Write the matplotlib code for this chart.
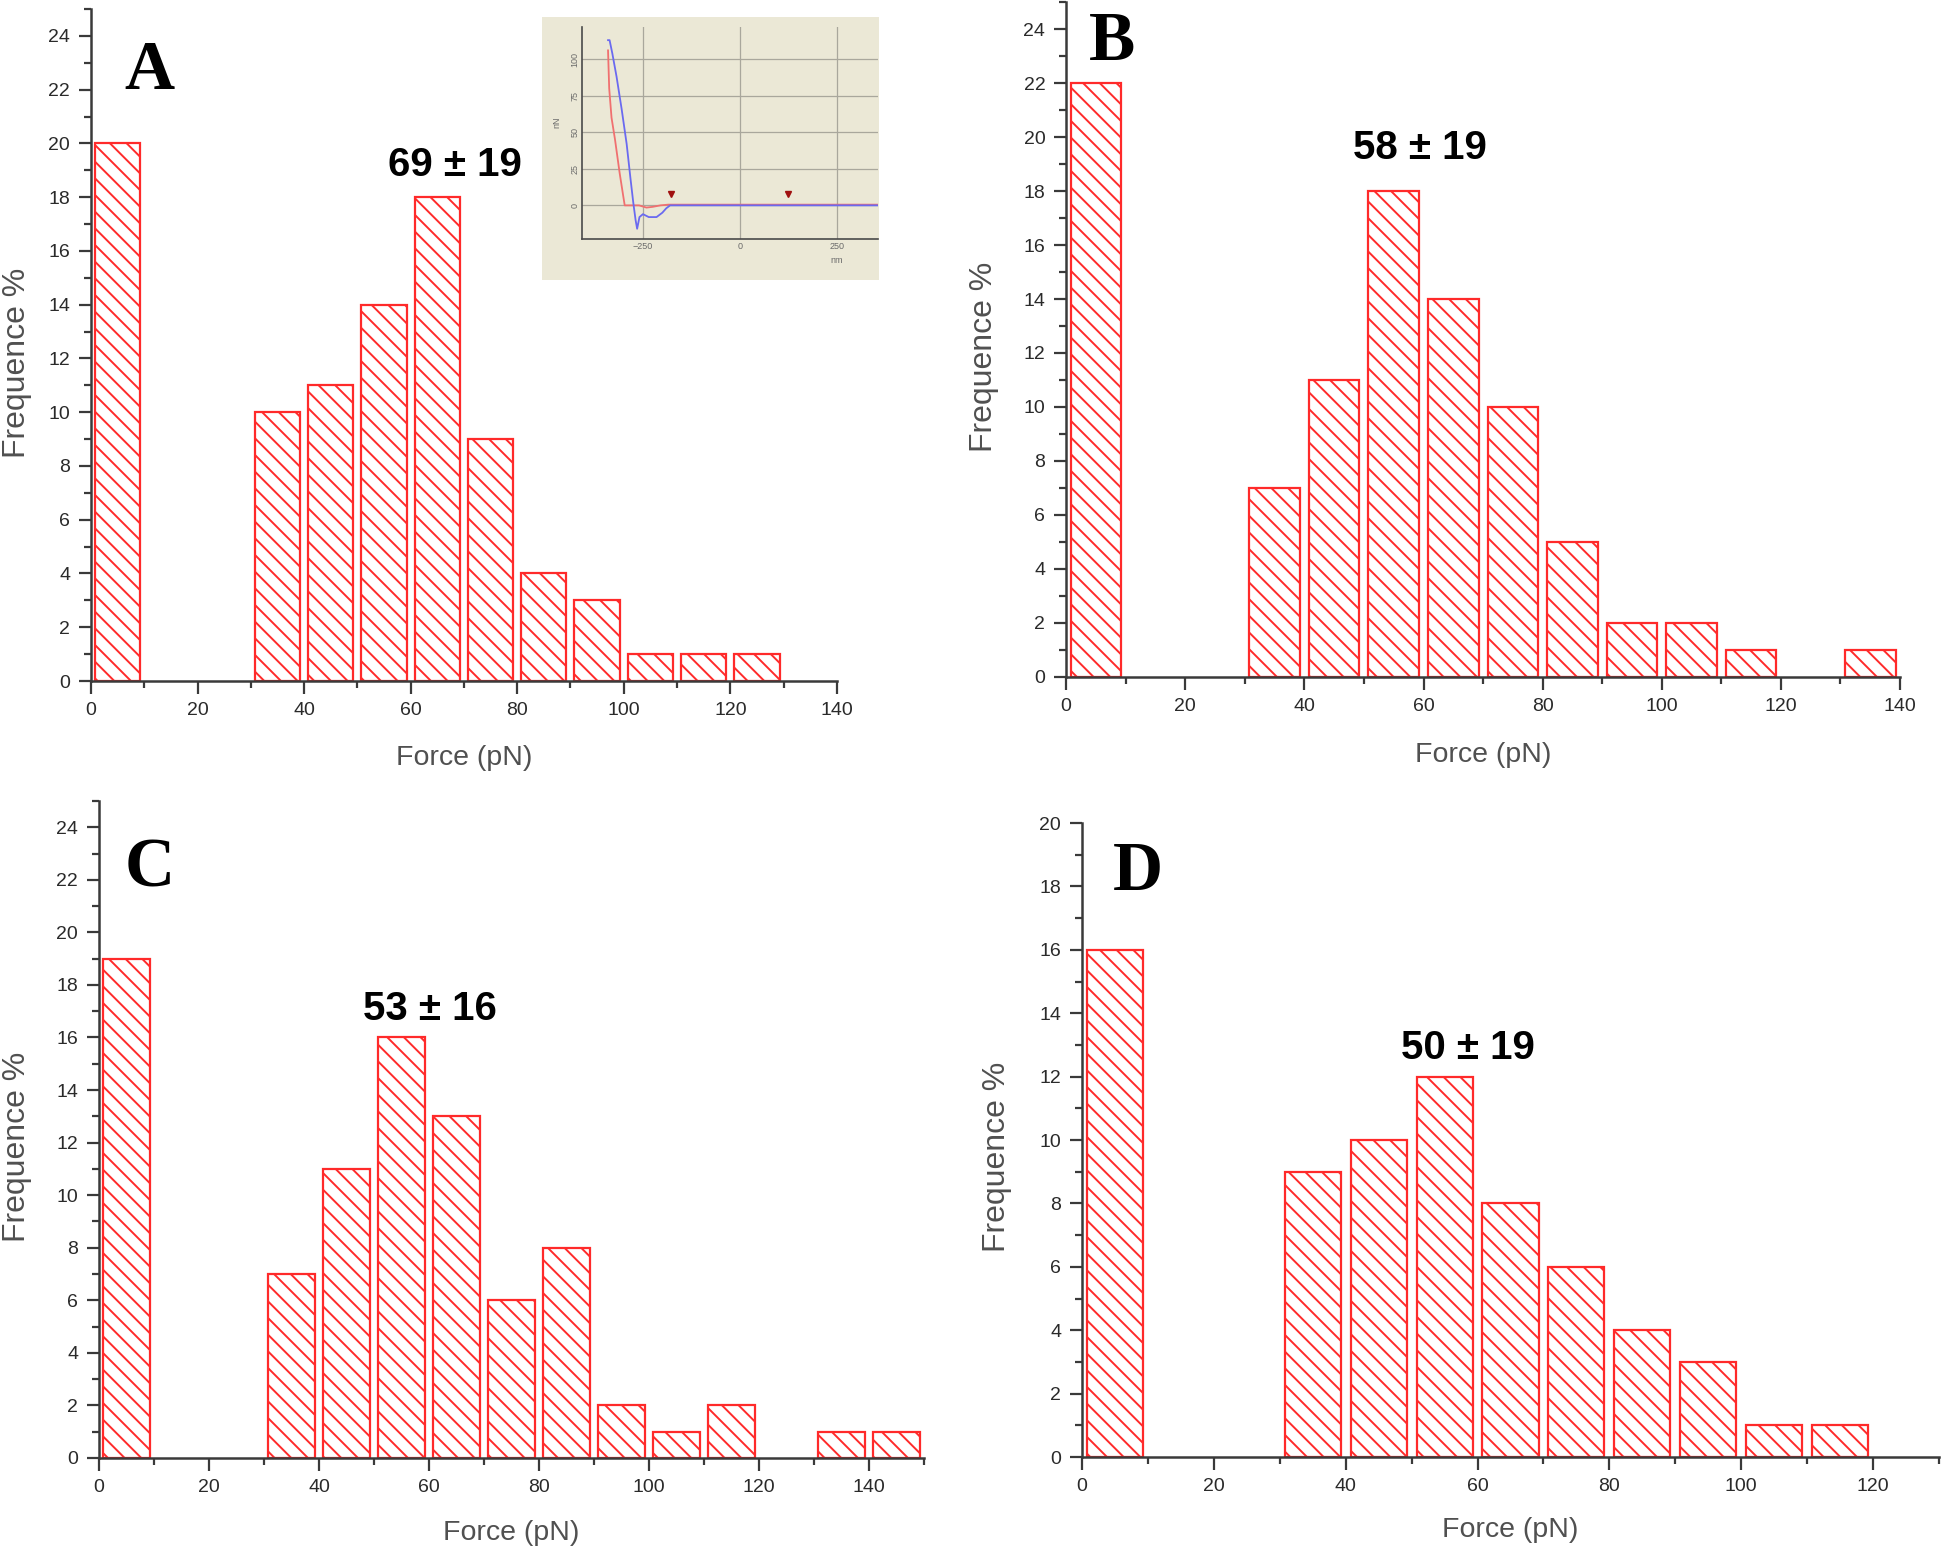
import matplotlib.pyplot as plt
import numpy as np
from matplotlib.ticker import MultipleLocator

plt.rcParams['font.family'] = ['Liberation Sans', 'DejaVu Sans']
plt.rcParams['hatch.linewidth'] = 1.4

# force bins (left edge, pN) and frequency (%) for each panel
bins_A = [0, 30, 40, 50, 60, 70, 80, 90, 100, 110, 120]
freq_A = [20, 10, 11, 14, 18, 9, 4, 3, 1, 1, 1]
bins_B = [0, 30, 40, 50, 60, 70, 80, 90, 100, 110, 130]
freq_B = [22, 7, 11, 18, 14, 10, 5, 2, 2, 1, 1]
bins_C = [0, 30, 40, 50, 60, 70, 80, 90, 100, 110, 130, 140]
freq_C = [19, 7, 11, 16, 13, 6, 8, 2, 1, 2, 1, 1]
bins_D = [0, 30, 40, 50, 60, 70, 80, 90, 100, 110]
freq_D = [16, 9, 10, 12, 8, 6, 4, 3, 1, 1]

stats = ['69 \u00b1 19', '58 \u00b1 19', '53 \u00b1 16', '50 \u00b1 19']
letters = ['A', 'B', 'C', 'D']

# inset force curve (nm, nN)
appr_x = [-340, -337, -331, -322, -310, -300, -297, -280, -260, -241, -225, -205, -185, 356]
appr_y = [106, 80, 60, 45, 22, 5, 0, 0, 0, -1.5, -1, 0, 0.5, 0.5]
retr_x = [-340, -336, -329, -318, -305, -292, -282, -275, -269, -265, -259, -250, -235, -215, -200, -190, -180, 356]
retr_y = [113, 113, 104, 88, 66, 42, 18, 2, -10, -16, -8, -6, -8, -8, -5, -2, 0, 0]
mark_x = [-179, 123]
mark_y = [8, 8]

fig = plt.figure(figsize=(19.44, 15.52), dpi=100)

red = '#ff2a2a'
axc = '#3a3a3a'

panels = [
    # rect, bins, freq, xmax, ymax, stat pos, letter pos
    ([0.0468, 0.5612, 0.3837, 0.4330], bins_A, freq_A, 140, 25, (68.3, 19.2), (0.079, 0.906)),
    ([0.5484, 0.5638, 0.4290, 0.4349], bins_B, freq_B, 140, 25, (59.4, 19.6), (0.055, 0.939)),
    ([0.0509, 0.0606, 0.4244, 0.4233], bins_C, freq_C, 150, 25, (60.2, 17.1), (0.061, 0.895)),
    ([0.5566, 0.0612, 0.4408, 0.4085], bins_D, freq_D, 130, 20, (58.6, 12.9), (0.065, 0.921)),
]

for i, (rect, bins, freq, xmax, ymax, spos, lpos) in enumerate(panels):
    ax = fig.add_axes(rect)
    ax.bar(np.array(bins) + 5, freq, width=8.5, facecolor='white',
           edgecolor=red, linewidth=1.6, hatch='\\\\', zorder=2)
    ax.set_xlim(0, xmax)
    ax.set_ylim(0, ymax)
    ax.xaxis.set_major_locator(MultipleLocator(20))
    ax.xaxis.set_minor_locator(MultipleLocator(10))
    ax.yaxis.set_major_locator(MultipleLocator(2))
    ax.yaxis.set_minor_locator(MultipleLocator(1))
    for s in ['top', 'right']:
        ax.spines[s].set_visible(False)
    for s in ['left', 'bottom']:
        ax.spines[s].set_color(axc)
        ax.spines[s].set_linewidth(1.8)
    ax.tick_params(which='major', length=9, width=1.6, color=axc,
                   labelsize=14, labelcolor='#2a2a2a', pad=6)
    ax.tick_params(which='minor', length=5, width=1.6, color=axc)
    ax.set_xlabel('Force (pN)', fontsize=20.5, color='#505050')
    ax.set_ylabel('Frequence %', fontsize=23, color='#505050')
    ax.xaxis.label.set_verticalalignment('center')
    ax.yaxis.label.set_verticalalignment('center')
    ax.xaxis.set_label_coords(0.5, -0.115)
    ax.yaxis.set_label_coords(-0.099, 0.474)
    ax.text(spos[0], spos[1], stats[i], ha='center', va='center',
            fontsize=29, fontweight='bold',
            family=['Liberation Sans Narrow', 'Liberation Sans'])
    ax.text(lpos[0], lpos[1], letters[i], transform=ax.transAxes,
            ha='center', va='center', fontsize=50, fontweight='bold',
            family=['Liberation Serif', 'DejaVu Serif'])

# inset in panel A
bg = fig.add_axes([0.2788, 0.8196, 0.1734, 0.1695])
bg.set_facecolor('#ebe8d6')
bg.set_xticks([])
bg.set_yticks([])
for s in bg.spines.values():
    s.set_visible(False)

ins = fig.add_axes([0.2994, 0.8460, 0.1523, 0.1366])
ins.set_facecolor('none')
ins.set_xlim(-407, 356)
ins.set_ylim(-23, 122)
ins.set_xticks([-250, 0, 250])
ins.set_yticks([0, 25, 50, 75, 100])
ins.grid(True, color='#a9a79c', linewidth=0.9)
ins.set_axisbelow(True)
for s in ['top', 'right']:
    ins.spines[s].set_visible(False)
for s in ['left', 'bottom']:
    ins.spines[s].set_color('#4a4a4a')
    ins.spines[s].set_linewidth(1.2)
ins.tick_params(length=0, labelsize=6.5, labelcolor='#6a6a6a', pad=2)
for lab in ins.get_yticklabels():
    lab.set_rotation(90)
    lab.set_va('center')
ins.plot(appr_x, appr_y, color='#f07070', linewidth=1.3)
ins.plot(retr_x, retr_y, color='#6a6af0', linewidth=1.3)
ins.plot(mark_x, mark_y, linestyle='none', marker='v', markersize=5, color='#a01010')
ins.set_ylabel('nN', fontsize=6.5, color='#6a6a6a', labelpad=0)
ins.yaxis.set_label_coords(-0.07, 0.55)
ins.text(250, -38, 'nm', fontsize=6.5, color='#6a6a6a', ha='center', va='center')

fig.savefig('out.png', dpi=100)
